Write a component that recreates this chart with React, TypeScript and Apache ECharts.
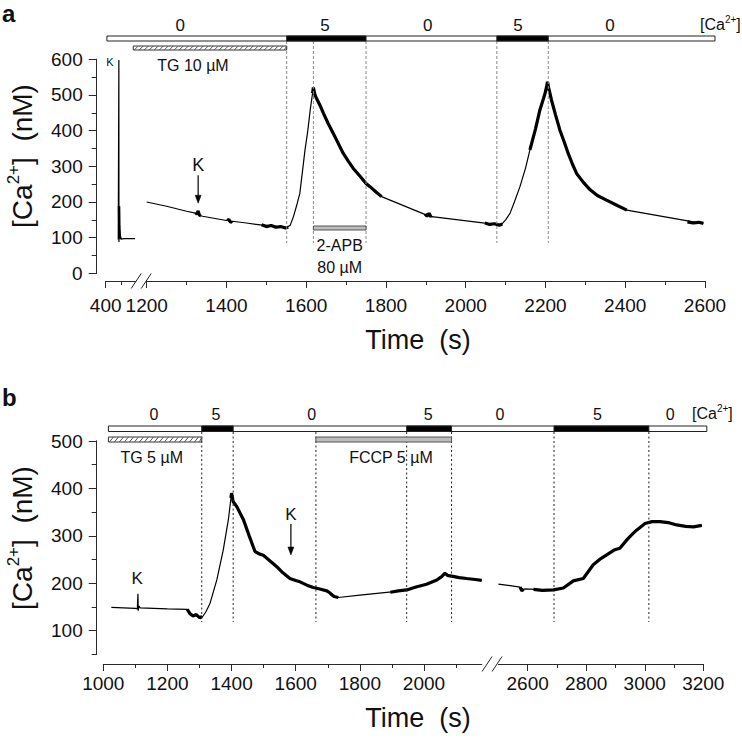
import React, { useEffect, useRef } from 'react';
import * as echarts from 'echarts';

const FONT = '"Liberation Sans", Arial, Helvetica, sans-serif';
const AXIS = '#2a2a2a';
const INK = '#111';

// ---------- Panel a : axes ----------
const xTicksA_left = [400];
const xMinorA_left = [450];
const xTicksA_right = [1200, 1400, 1600, 1800, 2000, 2200, 2400, 2600];
const xMinorA_right = [1300, 1500, 1700, 1900, 2100, 2300, 2500];
const yTicksA = [0, 100, 200, 300, 400, 500, 600];
const yMinorA = [50, 150, 250, 350, 450, 550];

// ---------- Panel a : traces (time s, [Ca2+] nM) ----------
const traceA_left = [
  [441, 95], [443, 598], [443.3, 88], [444, 188], [444.6, 128], [446, 104], [450, 96], [460, 97], [496, 97],
];
const traceA_main = [
  [1200, 200], [1250, 188], [1300, 174], [1325, 168], [1330, 172], [1334, 162], [1340, 160], [1400, 148],
  [1405, 150], [1410, 144], [1415, 146], [1450, 141], [1490, 135], [1520, 132], [1550, 128], [1560, 135],
  [1568, 159], [1576, 190], [1584, 224], [1590, 280], [1597, 346], [1604, 400], [1610, 458], [1616, 505],
  [1618, 521], [1622, 500], [1626, 490], [1635, 470], [1643, 449], [1655, 420], [1668, 392], [1680, 365],
  [1693, 336], [1705, 315], [1718, 294], [1735, 272], [1750, 252], [1760, 243], [1775, 228], [1789, 215],
  [1902, 163], [1908, 168], [1912, 158], [1915, 159], [2053, 140], [2070, 137], [2090, 137], [2100, 150],
  [2111, 168], [2122, 200], [2136, 243], [2150, 295], [2161, 346], [2175, 405], [2186, 458], [2195, 490],
  [2199, 505], [2203, 525], [2205, 537], [2208, 520], [2215, 486], [2225, 445], [2236, 402], [2247, 368],
  [2257, 336], [2268, 305], [2278, 280], [2295, 255], [2312, 234], [2330, 218], [2353, 205], [2380, 190],
  [2404, 177], [2567, 145], [2596, 140],
];
const noisyA_left = [[[443.6, 188], [444.5, 130], [446, 104], [449, 96]]];
const noisyA = [
  [[1322, 170], [1326, 166], [1329, 175], [1332, 163], [1336, 161]],
  [[1402, 148], [1406, 151], [1410, 143], [1414, 146]],
  [[1488, 136], [1500, 131], [1512, 134], [1524, 129], [1536, 131], [1548, 127], [1555, 129]],
  [[1616, 505], [1618, 521], [1622, 500], [1626, 490], [1635, 470], [1643, 449], [1655, 420], [1668, 392],
   [1680, 365], [1693, 336], [1705, 315], [1718, 294], [1735, 272], [1750, 252], [1760, 243], [1775, 228], [1789, 215]],
  [[1898, 166], [1903, 160], [1908, 168], [1913, 158]],
  [[2048, 141], [2060, 137], [2072, 139], [2084, 135], [2092, 138]],
  [[2161, 346], [2175, 405], [2186, 458], [2195, 490], [2199, 505], [2203, 525], [2205, 537], [2208, 520],
   [2215, 486], [2225, 445], [2236, 402], [2247, 368], [2257, 336], [2268, 305], [2278, 280], [2295, 255],
   [2312, 234], [2330, 218], [2353, 205], [2380, 190], [2404, 177]],
  [[2556, 144], [2570, 141], [2584, 143], [2596, 140]],
];

// ---------- Panel a : protocol ----------
// [start, end, [Ca2+] mM, label position]
const protocolA = [
  [404, 1551, 0, 1284], [1551, 1750, 5, 1647], [1750, 2078, 0, 1905], [2078, 2207, 5, 2131], [2207, 2625, 0, 2362],
];
// [start, end, kind, label position, label]
const drugsA = [
  [490, 1551, 'hatch', 1316, 'TG 10 µM'],
  [1618, 1750, 'gray', 1684, '2-APB\n80 µM'],
];
const eventsA = [1551, 1618, 1750, 2078, 2207];
// [time, value, arrow]
const kMarksA = [[414, 592, 0], [1329, 303, 1]];

// ---------- Panel b : axes ----------
const xTicksB_left = [1000, 1200, 1400, 1600, 1800, 2000];
const xMinorB_left = [1100, 1300, 1500, 1700, 1900, 2100];
const xTicksB_right = [2600, 2800, 3000, 3200];
const xMinorB_right = [2700, 2900, 3100];
const yTicksB = [100, 200, 300, 400, 500];
const yMinorB = [50, 150, 250, 350, 450];

// ---------- Panel b : traces ----------
const traceB_left = [
  [1025, 149], [1100, 147], [1106, 146], [1108, 178], [1109, 142], [1111, 152], [1115, 148], [1200, 146],
  [1262, 145], [1270, 136], [1285, 132], [1301, 128], [1310, 130], [1320, 140], [1333, 158], [1354, 207],
  [1374, 270], [1390, 334], [1400, 390], [1405, 375], [1416, 362], [1437, 334], [1455, 300], [1473, 267],
  [1499, 259], [1520, 247], [1541, 235], [1560, 222], [1582, 210], [1613, 203], [1635, 196], [1655, 191],
  [1697, 184], [1712, 176], [1717, 171], [1733, 170], [1800, 175], [1899, 182], [1946, 186], [1975, 192],
  [2008, 198], [2040, 207], [2065, 221], [2086, 215], [2110, 212], [2133, 210], [2160, 208], [2180, 206],
];
const traceB_right = [
  [2500, 198], [2540, 195], [2574, 192], [2580, 186], [2590, 188], [2625, 187], [2660, 186], [2688, 186],
  [2722, 190], [2756, 205], [2790, 210], [2824, 239], [2850, 252], [2870, 260], [2895, 270], [2915, 274],
  [2938, 291], [2955, 302], [2972, 312], [3001, 326], [3025, 330], [3052, 330], [3080, 328], [3109, 323],
  [3140, 320], [3166, 319], [3195, 322],
];
const noisyB_left = [
  [[1262, 145], [1270, 136], [1280, 131], [1290, 134], [1301, 127], [1308, 130]],
  [[1398, 380], [1400, 390], [1405, 372], [1416, 362], [1437, 334], [1455, 300], [1473, 267], [1486, 262],
   [1499, 259], [1520, 247], [1541, 235], [1560, 222], [1582, 210], [1600, 206], [1613, 203], [1635, 196],
   [1655, 191], [1675, 188], [1697, 184], [1706, 180], [1712, 176], [1720, 172], [1733, 170]],
  [[1895, 181], [1920, 184], [1946, 186], [1975, 192], [2008, 198], [2040, 207], [2055, 214], [2065, 221],
   [2075, 216], [2086, 215], [2110, 212], [2133, 210], [2160, 208], [2180, 206]],
];
const noisyB_right = [
  [[2574, 192], [2580, 184], [2586, 188]],
  [[2620, 187], [2650, 185], [2688, 186], [2722, 190], [2756, 205], [2790, 210], [2824, 239], [2850, 252],
   [2870, 260], [2895, 270], [2915, 274], [2938, 291], [2955, 302], [2972, 312], [3001, 326], [3025, 330],
   [3052, 330], [3080, 328], [3109, 323], [3140, 320], [3166, 319], [3195, 322]],
];

// ---------- Panel b : protocol ----------
const protocolB = [
  [1016, 1307, 0, 1158], [1307, 1405, 5, 1351], [1405, 1946, 0, 1650], [1946, 2086, 5, 2013],
  [2086, 2690, 0, 2505], [2690, 3014, 5, 2838], [3014, 3212, 0, 3087],
];
const drugsB = [
  [1016, 1307, 'hatch', 1151, 'TG 5 µM'],
  [1663, 2086, 'gray', 1897, 'FCCP 5 µM'],
];
const eventsB = [1307, 1405, 1663, 1946, 2086, 2690, 3014];
const kMarksB = [[1106, 210, 0], [1585, 346, 1]];

// ---------- layout ----------
const LAYOUT_A = {
  xl: 0, xr: 2, y: 0, breakT: 1000, axisY: 281, leftMax: 498, rightMin: 1200, breakShift: 0,
  protoY: 36, protoH: 5, labelY: 25, protoFont: 17, caX: 700,
  drugY: [46, 226], drugH: 4, dashTop: 41, dashBottom: 243, dashColor: '#8a8a8a', dash: [3, 2],
  kFont: [11, 18], arrowLen: 38,
};
const LAYOUT_B = {
  xl: 4, xr: 6, y: 3, breakT: 2300, axisY: 664, leftMax: 2180, rightMin: 2500, breakShift: 2,
  protoY: 426, protoH: 5.5, labelY: 414, protoFont: 16, caX: 692,
  drugY: [437, 437], drugH: 5, dashTop: 432, dashBottom: 622, dashColor: '#222', dash: [2, 2.5],
  kFont: [17, 17], arrowLen: 41,
};

const plain = (v: number) => String(v);

function xMajor(grid: number, min: number, max: number, ticks: number[], offset: number, margin: number) {
  return {
    type: 'value', gridIndex: grid, min, max, position: 'bottom', offset,
    axisLine: { show: true, onZero: false, lineStyle: { color: AXIS, width: 1 } },
    axisTick: { show: true, inside: false, length: 7, customValues: ticks, lineStyle: { color: AXIS, width: 1 } },
    axisLabel: { show: true, customValues: ticks, margin, fontSize: 19, fontFamily: FONT, color: INK, formatter: plain },
    splitLine: { show: false },
  };
}
function xMinor(grid: number, min: number, max: number, ticks: number[], offset: number) {
  return {
    type: 'value', gridIndex: grid, min, max, position: 'bottom', offset,
    axisLine: { show: true, onZero: false, lineStyle: { color: AXIS, width: 1 } },
    axisTick: { show: true, inside: false, length: 4, customValues: ticks, lineStyle: { color: AXIS, width: 1 } },
    axisLabel: { show: false },
    splitLine: { show: false },
  };
}
function yMajor(grid: number, min: number, max: number, ticks: number[], offset: number) {
  return {
    type: 'value', gridIndex: grid, min, max, position: 'left', offset,
    axisLine: { show: true, onZero: false, lineStyle: { color: AXIS, width: 1 } },
    axisTick: { show: true, inside: false, length: 8, customValues: ticks, lineStyle: { color: AXIS, width: 1 } },
    axisLabel: { show: true, customValues: ticks, margin: 14, fontSize: 19, fontFamily: FONT, color: INK, formatter: plain },
    splitLine: { show: false },
  };
}
function yMinor(grid: number, min: number, max: number, ticks: number[], offset: number) {
  return {
    type: 'value', gridIndex: grid, min, max, position: 'left', offset,
    axisLine: { show: true, onZero: false, lineStyle: { color: AXIS, width: 1 } },
    axisTick: { show: true, inside: false, length: 5, customValues: ticks, lineStyle: { color: AXIS, width: 1 } },
    axisLabel: { show: false },
    splitLine: { show: false },
  };
}
function yHidden(grid: number, min: number, max: number) {
  return { type: 'value', gridIndex: grid, min, max, show: false, splitLine: { show: false } };
}
function lineSeries(data: any[], xi: number, yi: number, w: number) {
  return {
    type: 'line', data, xAxisIndex: xi, yAxisIndex: yi, symbol: 'none', showSymbol: false, silent: true,
    clip: false, animation: false, lineStyle: { color: '#000', width: w }, z: 3,
  };
}

function txt(x: number, y: number, text: string, size: number, extra: any = {}) {
  return {
    type: 'text', x, y, silent: true, z: 10,
    style: {
      text, fontSize: size, fontFamily: FONT, fill: INK,
      align: 'center', verticalAlign: 'middle', textAlign: 'center', textVerticalAlign: 'middle', ...extra,
    },
  };
}
function rect(x: number, y: number, w: number, h: number, fill: string, stroke = '#222') {
  return { type: 'rect', silent: true, z: 10, shape: { x, y, width: w, height: h }, style: { fill, stroke, lineWidth: 1 } };
}
function seg(x1: number, y1: number, x2: number, y2: number, stroke: string, w = 1, dash?: number[], z = 9) {
  return {
    type: 'line', silent: true, z, shape: { x1, y1, x2, y2 },
    style: { stroke, lineWidth: w, lineDash: dash || null },
  };
}

function panelGraphics(chart: any, L: any, protocol: any[], drugs: any[], events: number[], kMarks: any[]) {
  const els: any[] = [];
  const px = (t: number) => chart.convertToPixel({ xAxisIndex: t < L.breakT ? L.xl : L.xr }, t) as number;
  const py = (v: number) => chart.convertToPixel({ yAxisIndex: L.y }, v) as number;

  events.forEach((t) => els.push(seg(px(t), L.dashTop, px(t), L.dashBottom, L.dashColor, 1, L.dash)));

  const p0 = px(protocol[0][0]);
  const p1 = px(protocol[protocol.length - 1][1]);
  els.push(rect(p0, L.protoY, p1 - p0, L.protoH, '#fff'));
  protocol.forEach(([a, b, lvl, lab]) => {
    if (lvl > 0) els.push(rect(px(a), L.protoY, px(b) - px(a), L.protoH, '#000'));
    els.push(txt(px(lab), L.labelY, String(lvl), L.protoFont));
  });
  els.push({
    type: 'text', x: L.caX, y: L.labelY - 1, silent: true, z: 10,
    style: {
      text: '{m|[Ca}{s|2+}{m|]}', align: 'left', verticalAlign: 'middle', textAlign: 'left', textVerticalAlign: 'middle',
      fill: INK,
      rich: {
        m: { fontSize: 16, fontFamily: FONT, fill: INK, lineHeight: 20 },
        s: { fontSize: 10, fontFamily: FONT, fill: INK, lineHeight: 10, verticalAlign: 'top' },
      },
    },
  });

  drugs.forEach(([a, b, kind, lab, label], i) => {
    const x0 = px(a);
    const x1 = px(b);
    const y0 = L.drugY[i];
    const y1 = y0 + L.drugH;
    if (kind === 'hatch') {
      els.push(rect(x0, y0, x1 - x0, L.drugH, '#fff', '#333'));
      for (let k = x0 + 1; k < x1 - 1; k += 5) {
        const k2 = Math.min(k + 4, x1);
        els.push(seg(k, y1, k2, y0, '#555', 1, undefined, 12));
      }
    } else {
      els.push(rect(x0, y0, x1 - x0, L.drugH, '#bdbdbd', '#555'));
    }
    els.push(txt(px(lab), y1 + 4, label, 16, { verticalAlign: 'top', textVerticalAlign: 'top', lineHeight: 22 }));
  });

  kMarks.forEach(([t, v, arrow], i) => {
    const x = px(t);
    const y = py(v);
    els.push(txt(x, y, 'K', L.kFont[i]));
    if (arrow) {
      const tip = y + L.arrowLen;
      els.push(seg(x, y + 10, x, tip - 4, '#000', 1.2));
      els.push({
        type: 'polygon', silent: true, z: 10,
        shape: { points: [[x - 3, tip - 8], [x + 3, tip - 8], [x, tip]] },
        style: { fill: '#000', stroke: '#000', lineWidth: 0.5 },
      });
    }
  });

  // axis break marks
  const leftEnd = chart.convertToPixel({ xAxisIndex: L.xl }, L.leftMax) as number;
  const rightStart = chart.convertToPixel({ xAxisIndex: L.xr }, L.rightMin) as number;
  const mid = (leftEnd + rightStart) / 2 + L.breakShift;
  [-5, 5].forEach((d) => {
    els.push(seg(mid + d - 5, L.axisY + 7.5, mid + d + 5, L.axisY - 7.5, '#222', 1));
  });
  return els;
}

export default function App() {
  const ref = useRef<HTMLDivElement>(null);
  useEffect(() => {
    if (!ref.current) return;
    const chart = echarts.init(ref.current, null, { renderer: 'svg' });
    const gridBase = { containLabel: false, outerBoundsMode: 'none', show: false };
    const option: any = {
      animation: false,
      backgroundColor: '#fff',
      grid: [
        { ...gridBase, left: 105.7, top: 59.3, width: 30, height: 214 },
        { ...gridBase, left: 146.7, top: 59.3, width: 558.3, height: 214 },
        { ...gridBase, left: 103.3, top: 441, width: 378.4, height: 213.4 },
        { ...gridBase, left: 498.4, top: 441, width: 204.9, height: 213.4 },
      ],
      xAxis: [
        xMajor(0, 400, 498, xTicksA_left, 7.7, 15),
        xMinor(0, 400, 498, xMinorA_left, 7.7),
        xMajor(1, 1200, 2600, xTicksA_right, 7.7, 15),
        xMinor(1, 1200, 2600, xMinorA_right, 7.7),
        xMajor(2, 1000, 2180, xTicksB_left, 9.6, 10),
        xMinor(2, 1000, 2180, xMinorB_left, 9.6),
        xMajor(3, 2500, 3200, xTicksB_right, 9.6, 10),
        xMinor(3, 2500, 3200, xMinorB_right, 9.6),
      ],
      yAxis: [
        yMajor(0, 0, 600, yTicksA, 9),
        yMinor(0, 0, 600, yMinorA, 9),
        yHidden(1, 0, 600),
        yMajor(2, 50, 500, yTicksB, 6.6),
        yMinor(2, 50, 500, yMinorB, 6.6),
        yHidden(3, 50, 500),
      ],
      series: [
        lineSeries(traceA_left, 0, 0, 1.2),
        ...noisyA_left.map((d) => lineSeries(d, 0, 0, 2.5)),
        lineSeries(traceA_main, 2, 2, 1.2),
        ...noisyA.map((d) => lineSeries(d, 2, 2, 3.2)),
        lineSeries(traceB_left, 4, 3, 1.2),
        ...noisyB_left.map((d) => lineSeries(d, 4, 3, 3.2)),
        lineSeries(traceB_right, 6, 5, 1.2),
        ...noisyB_right.map((d) => lineSeries(d, 6, 5, 3.2)),
      ],
    };
    chart.setOption(option);

    const els: any[] = [
      ...panelGraphics(chart, LAYOUT_A, protocolA, drugsA, eventsA, kMarksA),
      ...panelGraphics(chart, LAYOUT_B, protocolB, drugsB, eventsB, kMarksB),
      txt(2, 13, 'a', 24, { fontWeight: 'bold', align: 'left', textAlign: 'left' }),
      txt(2, 397, 'b', 24, { fontWeight: 'bold', align: 'left', textAlign: 'left' }),
      txt(418, 340, 'Time  (s)', 27),
      txt(418, 717.5, 'Time  (s)', 27),
    ];
    const yTitle = (y: number) => ({
      type: 'text', x: 22, y, rotation: Math.PI / 2, silent: true, z: 10,
      style: {
        text: '{m|[Ca}{s|2+}{m|]  (nM)}', align: 'center', verticalAlign: 'middle',
        textAlign: 'center', textVerticalAlign: 'middle', fill: INK,
        rich: {
          m: { fontSize: 28, fontFamily: FONT, fill: INK, lineHeight: 34 },
          s: { fontSize: 17, fontFamily: FONT, fill: INK, lineHeight: 17, verticalAlign: 'top' },
        },
      },
    });
    els.push(yTitle(156), yTitle(538));
    chart.setOption({ graphic: { elements: els } });

    return () => chart.dispose();
  }, []);

  return (
    <div
      ref={ref}
      style={{ position: 'fixed', left: 0, top: 0, width: 742, height: 740, background: '#fff' }}
    />
  );
}
